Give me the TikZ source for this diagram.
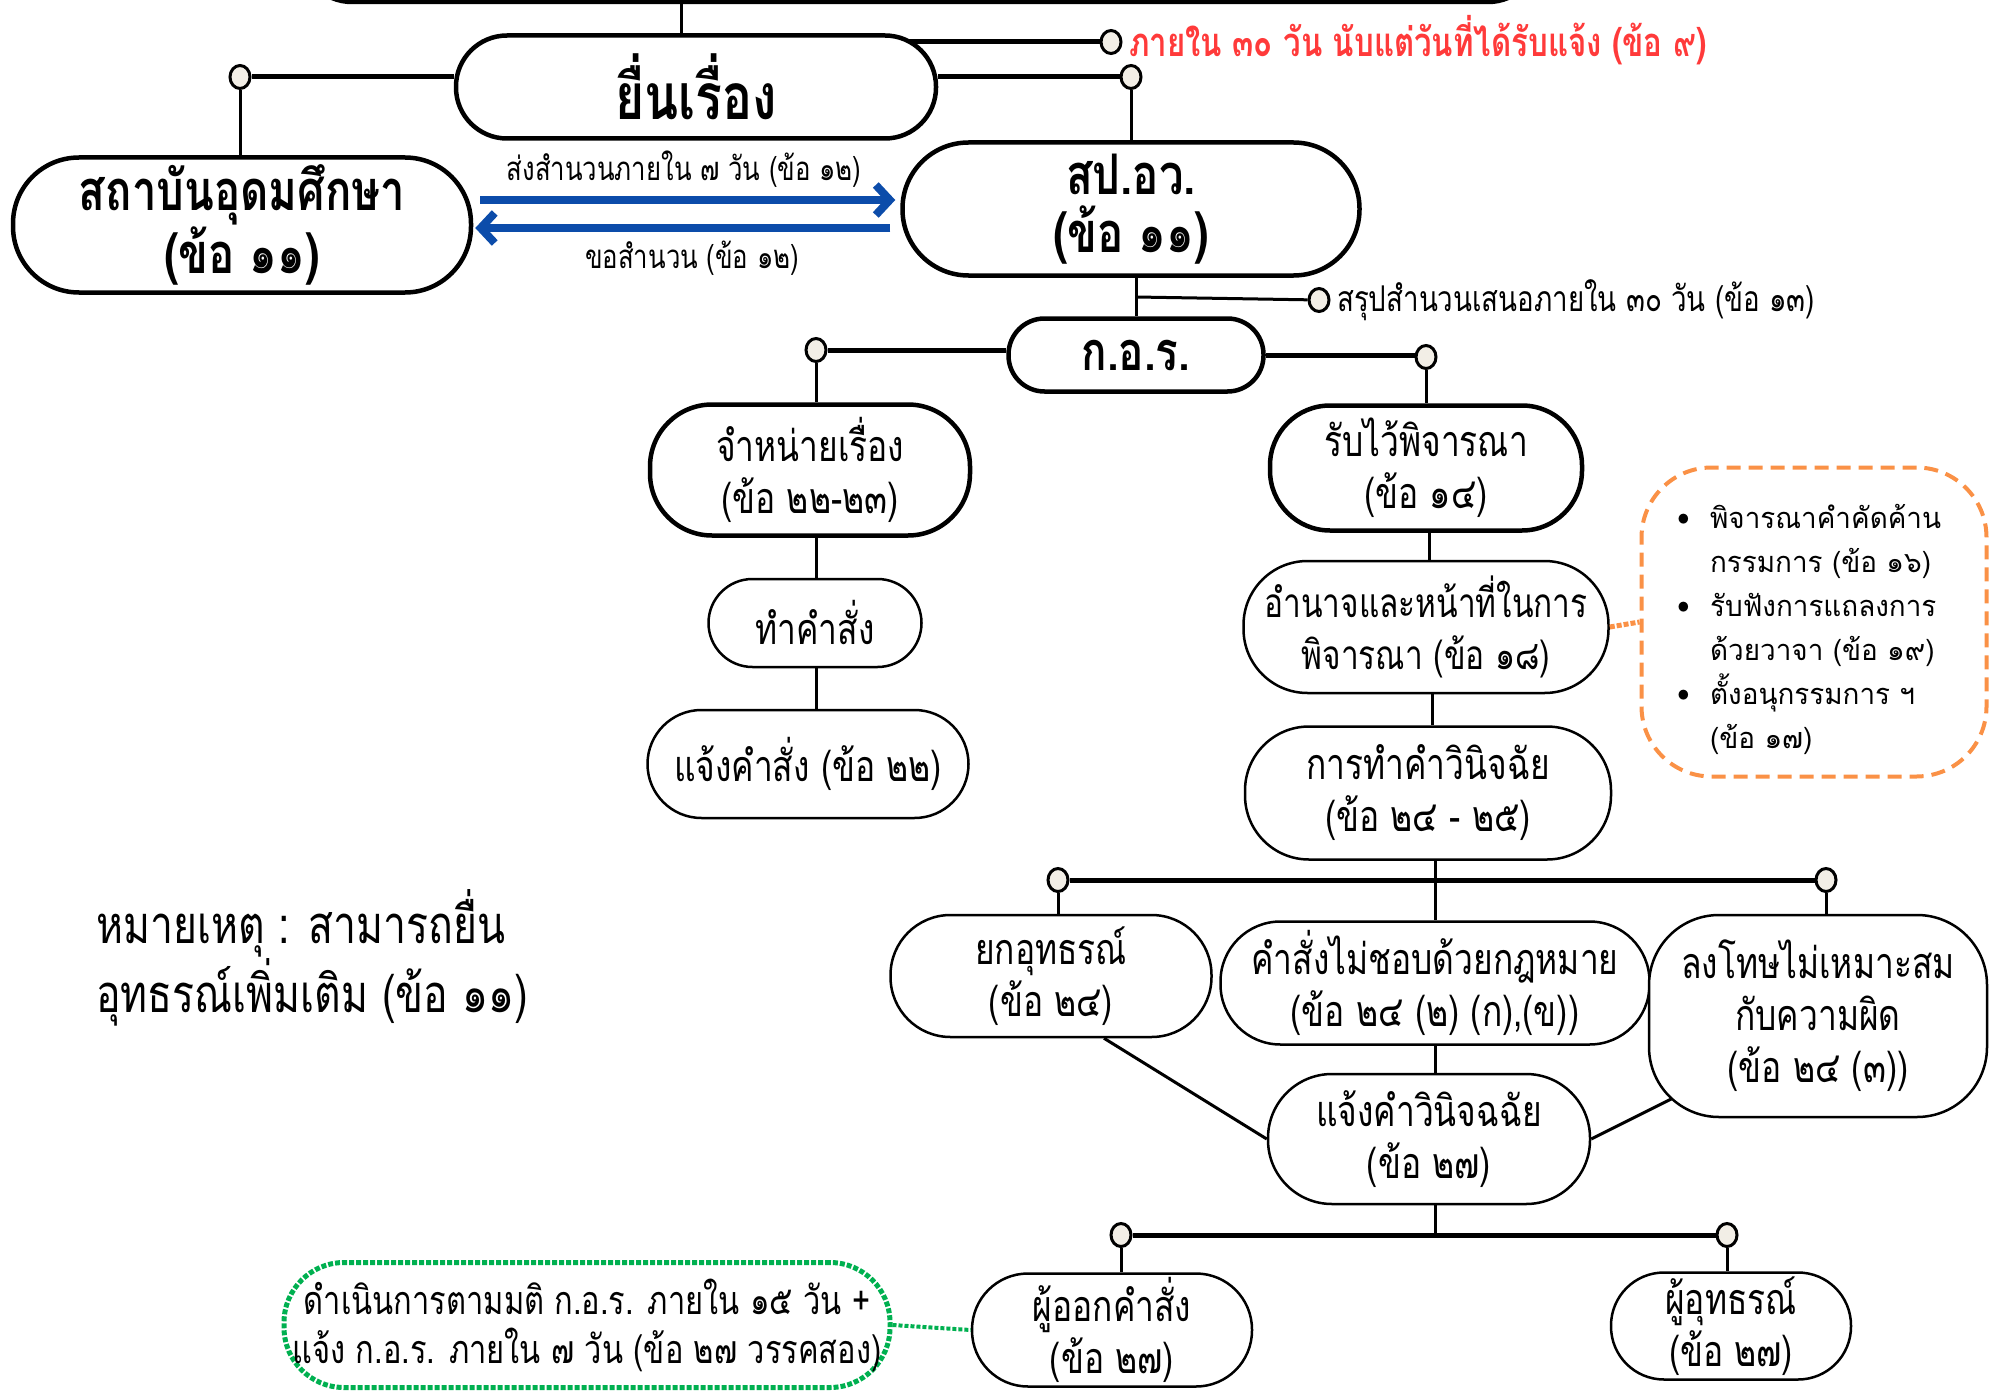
\documentclass[tikz,border=0pt]{standalone}
\usepackage{fontspec}
\usetikzlibrary{arrows.meta,shapes.geometric}

\newfontfamily\thaifont[Script=Thai,FakeStretch=0.78]{Loma}
\newfontfamily\loopfont[Script=Thai,FakeStretch=0.96]{Loma}

\definecolor{knobfill}{RGB}{242,238,230}
\definecolor{flowblue}{RGB}{12,76,170}
\definecolor{alertred}{RGB}{255,58,58}
\definecolor{noteorange}{RGB}{250,145,70}
\definecolor{notegreen}{RGB}{0,176,80}

\pgfdeclarelayer{background}
\pgfsetlayers{background,main}

\begin{document}
\begin{tikzpicture}[x=1pt,y=-1pt,
  box/.style={draw,fill=white,line width=2.5pt,rounded corners=55pt,align=center,inner sep=0pt,
    font=\thaifont\fontsize{43}{52}\selectfont},
  bigbox/.style={box,line width=4.5pt,font=\thaifont\bfseries\fontsize{56}{58}\selectfont},
  knob/.style={ellipse,draw,fill=knobfill,line width=3pt,minimum width=20pt,minimum height=23pt,inner sep=0pt},
  link/.style={line width=3pt},
  bar/.style={line width=5pt},
  flow/.style={flowblue,line width=8pt,-{Straight Barb[length=14pt,width=30pt]}},
  remark/.style={font=\thaifont\fontsize{35.5}{40}\selectfont,inner sep=0pt}]
\useasboundingbox (0,0) rectangle (1989,1391);

% main boxes
\node[bigbox,rounded corners=52pt,minimum width=1240,minimum height=104] (top) at (920,-50) {};
\node[bigbox,rounded corners=51pt,minimum width=480,minimum height=103,
  font=\thaifont\bfseries\fontsize{64}{64}\selectfont] (file) at (696,87) {ยื่นเรื่อง};
\node[bigbox,rounded corners=66pt,minimum width=458,minimum height=135] (inst) at (242,225)
  {สถาบันอุดมศึกษา\\(ข้อ ๑๑)};
\node[bigbox,rounded corners=66pt,minimum width=457,minimum height=133] (office) at (1131,209)
  {สป.อว.\\(ข้อ ๑๑)};
\node[bigbox,rounded corners=36pt,minimum width=255,minimum height=73,
  font=\thaifont\bfseries\fontsize{54}{54}\selectfont] (board) at (1136,355) {ก.อ.ร.};

% left branch
\node[box,line width=4.5pt,rounded corners=62pt,minimum width=320,minimum height=131] (dismiss) at (810,470)
  {จำหน่ายเรื่อง\\(ข้อ ๒๒-๒๓)};
\node[box,rounded corners=44pt,minimum width=213,minimum height=88] (order) at (815,623) {ทำคำสั่ง};
\node[box,rounded corners=54pt,minimum width=321,minimum height=108] (tellorder) at (808,764)
  {แจ้งคำสั่ง (ข้อ ๒๒)};

% right branch
\node[box,line width=4.5pt,rounded corners=60pt,minimum width=312,minimum height=125] (accept) at (1426,468)
  {รับไว้พิจารณา\\(ข้อ ๑๔)};
\node[box,rounded corners=64pt,minimum width=365,minimum height=132,
  font=\thaifont\fontsize{40.5}{52}\selectfont] (power) at (1426,627)
  {อำนาจและหน้าที่ในการ\\พิจารณา (ข้อ ๑๘)};
\node[box,rounded corners=64pt,minimum width=366,minimum height=133] (decide) at (1428,793)
  {การทำคำวินิจฉัย\\(ข้อ ๒๔ - ๒๕)};
\node[box,rounded corners=60pt,minimum width=321,minimum height=122] (reject) at (1051,976)
  {ยกอุทธรณ์\\(ข้อ ๒๔)};
\node[box,rounded corners=60pt,minimum width=429,minimum height=123] (unlawful) at (1435,983)
  {คำสั่งไม่ชอบด้วยกฎหมาย\\(ข้อ ๒๔ (๒) (ก),(ข))};
\node[box,rounded corners=70pt,minimum width=338,minimum height=202] (penalty) at (1818,1016)
  {ลงโทษไม่เหมาะสม\\กับความผิด\\(ข้อ ๒๔ (๓))};
\node[box,rounded corners=64pt,minimum width=322,minimum height=130] (verdict) at (1429,1139)
  {แจ้งคำวินิจฉฉัย\\(ข้อ ๒๗)};
\node[box,rounded corners=56pt,minimum width=280,minimum height=113] (issuer) at (1112,1330)
  {ผู้ออกคำสั่ง\\(ข้อ ๒๗)};
\node[box,rounded corners=53pt,minimum width=240,minimum height=107] (appellant) at (1731,1326)
  {ผู้อุทธรณ์\\(ข้อ ๒๗)};

% notes
\node[draw=noteorange,dashed,dash pattern=on 14pt off 8pt,line width=4pt,rounded corners=70pt,
  minimum width=345,minimum height=309,inner sep=0pt] (extra) at (1814,622) {};
\node[font=\loopfont\fontsize{29}{44}\selectfont,inner sep=0pt,anchor=west] (extratext) at (1677,630)
  {\begin{tabular}{@{}l@{\hspace{20pt}}l@{}}
  • & พิจารณาคำคัดค้าน\\ & กรรมการ (ข้อ ๑๖)\\
  • & รับฟังการแถลงการ\\ & ด้วยวาจา (ข้อ ๑๙)\\
  • & ตั้งอนุกรรมการ ฯ\\ & (ข้อ ๑๗)
  \end{tabular}};
\node[draw=notegreen,dotted,line width=5pt,rounded corners=60pt,minimum width=606,minimum height=125,
  align=center,inner sep=0pt,font=\thaifont\fontsize{39.5}{49}\selectfont] (act) at (587,1325)
  {ดำเนินการตามมติ ก.อ.ร. ภายใน ๑๕ วัน +\\แจ้ง ก.อ.ร. ภายใน ๗ วัน (ข้อ ๒๗ วรรคสอง)};
\node[anchor=west,align=left,inner sep=0pt,font=\thaifont\fontsize{52.5}{65}\selectfont] (memo) at (96,958)
  {หมายเหตุ : สามารถยื่น\\อุทธรณ์เพิ่มเติม (ข้อ ๑๑)};

% knobs
\node[knob] (kInst) at (240,77) {};
\node[knob] (kRed) at (1111,42) {};
\node[knob] (kOffice) at (1131,77) {};
\node[knob] (kSum) at (1319,300) {};
\node[knob] (kDismiss) at (816,350) {};
\node[knob] (kAccept) at (1426,357) {};
\node[knob] (kReject) at (1058,880) {};
\node[knob] (kPenalty) at (1826,880) {};
\node[knob] (kIssuer) at (1121,1235) {};
\node[knob] (kAppellant) at (1727,1235) {};

% side labels
\node[anchor=west,remark,font=\thaifont\bfseries\fontsize{40}{40}\selectfont,text=alertred] (deadline) at (1129,40)
  {ภายใน ๓๐ วัน นับแต่วันที่ได้รับแจ้ง (ข้อ ๙)};
\node[anchor=west,remark] (sumlabel) at (1337,300) {สรุปสำนวนเสนอภายใน ๓๐ วัน (ข้อ ๑๓)};
\node[remark,font=\thaifont\fontsize{33}{36}\selectfont] (sendlabel) at (684,169) {ส่งสำนวนภายใน ๗ วัน (ข้อ ๑๒)};
\node[remark,font=\thaifont\fontsize{33}{36}\selectfont] (asklabel) at (692,258) {ขอสำนวน (ข้อ ๑๒)};

\coordinate (jSum) at (1136,297);
\coordinate (jTop) at (681,2);
\coordinate (jRed) at (899,42);

% connectors
\begin{pgfonlayer}{background}
\path[link]
(jTop) edge (jTop |- file.north)
(kInst) edge (kInst |- inst.north)
(kOffice) edge (kOffice |- office.north)
(office.south -| jSum) edge (board.north -| jSum)
(jSum) edge (kSum)
(kDismiss) edge (kDismiss |- dismiss.north)
(kAccept) edge (kAccept |- accept.north)
(dismiss.south -| kDismiss) edge (order.north -| kDismiss)
(order.south -| kDismiss) edge (tellorder.north -| kDismiss)
(accept.south -| 1429,0) edge (power.north -| 1429,0)
(power.south -| 1432,0) edge (decide.north -| 1432,0)
(decide.south -| unlawful) edge (unlawful.north)
(kReject) edge (kReject |- reject.north)
(kPenalty) edge (kPenalty |- penalty.north)
(unlawful.south) edge (unlawful.south |- verdict.north)
([xshift=53pt]reject.south) edge (verdict.west)
(verdict.east) edge ([xshift=29pt,yshift=22pt]penalty.south west)
(verdict.south -| unlawful) edge (unlawful |- kIssuer)
(kIssuer) edge (kIssuer |- issuer.north)
(kAppellant) edge (kAppellant |- appellant.north);

\path[bar]
(jRed) edge (kRed)
(file.east |- kOffice) edge (kOffice)
(file.west |- kInst) edge (kInst)
(board.west |- kDismiss) edge (kDismiss)
(board.east) edge (board.east -| kAccept)
(kReject) edge (kPenalty)
(kIssuer) edge (kAppellant);
\end{pgfonlayer}

\draw[flow] (inst.east |- 0,200) ++(7,0) -- ([xshift=-5pt]office.west |- 0,200);
\draw[flow] (office.west |- 0,228) ++(-10,0) -- ([xshift=2pt]inst.east |- 0,228);

\draw[noteorange,dotted,line width=5pt] (power.east) -- (extra.west);
\draw[notegreen,dotted,line width=4pt] (act.east) -- (issuer.west);
\end{tikzpicture}
\end{document}
